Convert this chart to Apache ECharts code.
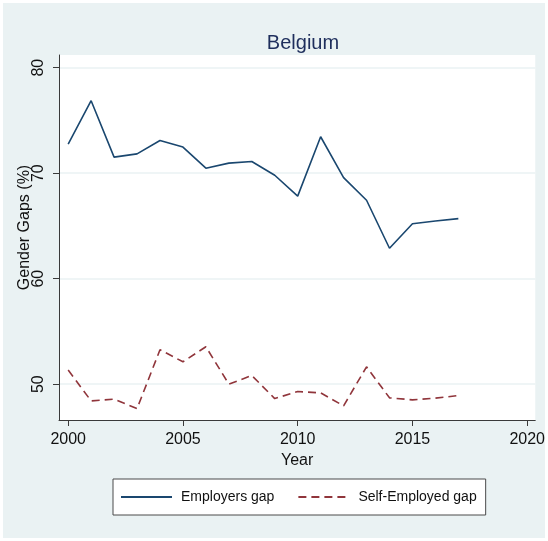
<!DOCTYPE html>
<html>
<head>
<meta charset="utf-8">
<script src="https://cdn.jsdelivr.net/npm/echarts@6/dist/echarts.min.js"></script>
<style>
html,body{margin:0;padding:0;background:#fff;}
#chart{width:548px;height:541px;}
</style>
</head>
<body>
<div id="chart"></div>
<script>
const years = [2000,2001,2002,2003,2004,2005,2006,2007,2008,2009,2010,2011,2012,2013,2014,2015,2016,2017];
const employersGap = [72.75,76.87,71.52,71.83,73.10,72.47,70.47,70.95,71.10,69.80,67.82,73.45,69.58,67.43,62.88,65.21,65.47,65.69];
const selfEmployedGap = [51.33,48.41,48.57,47.68,53.26,52.12,53.54,50.00,50.82,48.63,49.30,49.17,47.94,51.64,48.70,48.51,48.67,48.92];
const yTicks = [50,60,70,80];
const xTicks = [2000,2005,2010,2015,2020];
const seriesNames = ['Employers gap','Self-Employed gap'];
const titleText = 'Belgium';
const xName = 'Year';
const yName = 'Gender Gaps (%)';

const FONT = "'Liberation Sans',Arial,sans-serif";
const BG = '#eaf2f3';
const AX = '#3a3a3a';

const chart = echarts.init(document.getElementById('chart'), null, {renderer:'canvas'});
chart.setOption({
  backgroundColor: '#ffffff',
  animation: false,
  graphic: [{
    type: 'rect', z: -10, silent: true,
    shape: {x: 3, y: 3, width: 542, height: 535},
    style: {fill: BG}
  }],
  title: {
    text: titleText,
    left: 298, top: 28, textAlign: 'center',
    textStyle: {fontFamily: FONT, fontSize: 20, fontWeight: 'normal', color: '#1e2e5c'}
  },
  grid: {
    left: 59, right: 9, top: 55, bottom: 121,
    show: true, backgroundColor: '#ffffff', borderWidth: 0
  },
  legend: {
    left: 113, top: 479,
    padding: [11, 9, 11, 7],
    itemWidth: 51, itemHeight: 14, itemGap: 23,
    backgroundColor: '#ffffff', borderColor: '#4a4a4a', borderWidth: 1,
    itemStyle: {opacity: 0},
    textStyle: {fontFamily: FONT, fontSize: 14, color: '#111', padding: [0,0,0,4]},
    data: seriesNames
  },
  xAxis: {
    type: 'value', min: 1999.6, max: 2020.35,
    name: xName, nameLocation: 'middle', nameGap: 30,
    nameTextStyle: {fontFamily: FONT, fontSize: 16, color: '#111'},
    axisLine: {show: true, onZero: false, lineStyle: {color: AX, width: 1}},
    axisTick: {show: true, length: 6, customValues: xTicks, lineStyle: {color: AX}},
    axisLabel: {customValues: xTicks, margin: 12, fontFamily: FONT, fontSize: 16, color: '#111',
      formatter: v => String(Math.round(v))},
    splitLine: {show: false}
  },
  yAxis: {
    type: 'value', min: 46.6, max: 81.2,
    name: yName, nameLocation: 'middle', nameGap: 26, nameRotate: 90, nameMoveOverlap: false,
    nameTextStyle: {fontFamily: FONT, fontSize: 16, color: '#111', padding: [0,0,0,20]},
    axisLine: {show: true, onZero: false, lineStyle: {color: AX, width: 1}},
    axisTick: {show: true, length: 6, customValues: yTicks, lineStyle: {color: AX}},
    axisLabel: {customValues: yTicks, rotate: 90, margin: 12, fontFamily: FONT, fontSize: 16, color: '#111',
      formatter: v => String(Math.round(v))},
    splitLine: {show: true, lineStyle: {color: BG, width: 1.5}}
  },
  series: [
    {
      name: seriesNames[0], type: 'line', symbol: 'none',
      data: years.map((y,i)=>[y, employersGap[i]]),
      lineStyle: {color: '#1a476f', width: 1.6},
      itemStyle: {color: '#1a476f'}
    },
    {
      name: seriesNames[1], type: 'line', symbol: 'none',
      data: years.map((y,i)=>[y, selfEmployedGap[i]]),
      lineStyle: {color: '#90353b', width: 1.6, type: [8,5]},
      itemStyle: {color: '#90353b'}
    }
  ]
});
</script>
</body>
</html>
